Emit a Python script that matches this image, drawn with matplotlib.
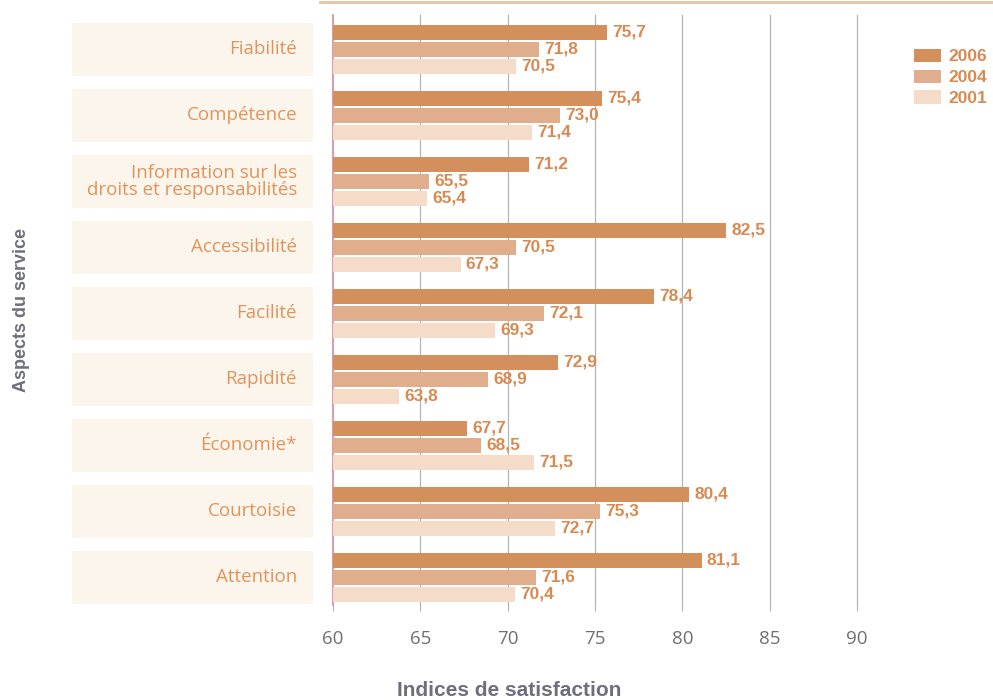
import matplotlib
matplotlib.use("Agg")
import matplotlib.pyplot as plt
from matplotlib.patches import Rectangle
from matplotlib.lines import Line2D
import numpy as np

categories = ["Fiabilité", "Compétence", "Information sur les\ndroits et responsabilités",
              "Accessibilité", "Facilité", "Rapidité", "Économie*", "Courtoisie", "Attention"]
years = ["2006", "2004", "2001"]
v2006 = [75.7, 75.4, 71.2, 82.5, 78.4, 72.9, 67.7, 80.4, 81.1]
v2004 = [71.8, 73.0, 65.5, 70.5, 72.1, 68.9, 68.5, 75.3, 71.6]
v2001 = [70.5, 71.4, 65.4, 67.3, 69.3, 63.8, 71.5, 72.7, 70.4]
series = [v2006, v2004, v2001]
colors = ["#d4905c", "#e0ae8c", "#f4dcc8"]
label_col = "#d98a52"
cat_col = "#e0935c"
gray = "#6e6e7c"

W, H = 993, 700
fig = plt.figure(figsize=(W / 100, H / 100), dpi=100)
ax = fig.add_axes([333 / W, 1 - 605 / H, (857 - 333) / W, (605 - 15) / H])

pitch = 0.258
hgt = 0.23
y = np.arange(len(categories))
for k, (vals, c) in enumerate(zip(series, colors)):
    pos = y + (k - 1) * pitch
    ax.barh(pos, np.array(vals) - 60, left=60, height=hgt, color=c, zorder=3, label=years[k])
    for p, v in zip(pos, vals):
        ax.text(v + 0.3, p, f"{v:.1f}".replace(".", ","), va="center", ha="left",
                fontsize=12.5, fontweight="bold", color=label_col, family="Liberation Sans", zorder=4)

ax.set_xlim(60, 90)
ax.set_ylim(8.42, -0.52)
ax.set_xticks(range(60, 91, 5))
ax.set_yticks([])
# draw the grid by hand so the line at 90 is not clipped at the axes edge
for gx in range(65, 91, 5):
    ax.axvline(gx, color="#b4b4b4", linewidth=0.9, zorder=0, clip_on=False)
for s in ["top", "right", "bottom"]:
    ax.spines[s].set_visible(False)
ax.spines["left"].set_color("#d8889a")
ax.spines["left"].set_linewidth(1.2)
ax.tick_params(axis="x", length=4, color="#b4b4b4", pad=14, labelsize=13.5, labelcolor="#707070")
for t in ax.get_xticklabels():
    t.set_family("Open Sans")

# category boxes and names, left of the axis
trans = ax.get_yaxis_transform()
for i, name in enumerate(categories):
    ax.add_patch(Rectangle(((72 - 333) / (857 - 333), i - 0.4), (313 - 72) / (857 - 333), 0.8,
                           transform=trans, facecolor="#fcf5ec", edgecolor="none", clip_on=False, zorder=1))
    ax.text((297 - 333) / (857 - 333), i, name, transform=trans, ha="right", va="center",
            fontsize=13.5, color=cat_col, family="Open Sans", linespacing=0.9, clip_on=False, zorder=2)

fig.text(22 / W, 1 - 310 / H, "Aspects du service", rotation=90, ha="center", va="center",
         fontsize=13, fontweight="bold", color=gray, family="Liberation Sans")
fig.text(509 / W, 1 - 690 / H, "Indices de satisfaction", ha="center", va="center",
         fontsize=15, fontweight="bold", color=gray, family="Liberation Sans")

leg = fig.legend(loc="upper left", bbox_to_anchor=(898 / W, 1 - 33 / H), frameon=False,
                 handlelength=1.55, handleheight=0.8, handletextpad=0.45, labelspacing=0.3,
                 borderaxespad=0.5, prop={"family": "Liberation Sans", "weight": "bold", "size": 12.5})
for t in leg.get_texts():
    t.set_color(label_col)

fig.add_artist(Line2D([320 / W, 1], [1 - 2 / H, 1 - 2 / H], transform=fig.transFigure,
                      color="#e8c4a2", linewidth=2))

fig.savefig("out.png", dpi=100)
